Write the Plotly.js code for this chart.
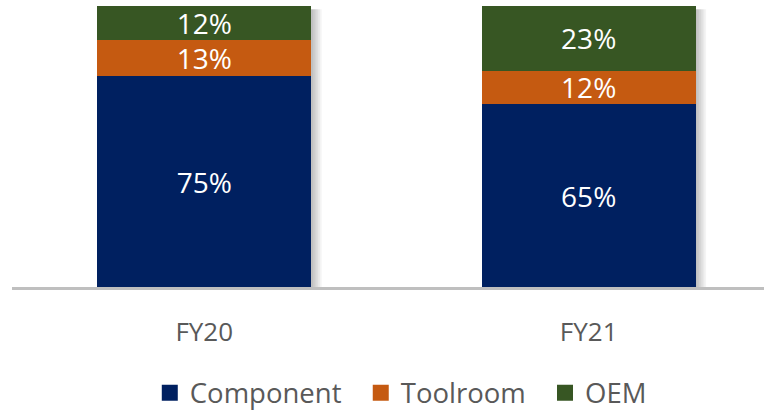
<!DOCTYPE html>
<html>
<head>
<meta charset="utf-8">
<script src="https://cdn.plot.ly/plotly-3.0.1.min.js"></script>
<style>
  html, body { margin: 0; padding: 0; background: #ffffff; }
  #chart { width: 764px; height: 410px; }
</style>
</head>
<body>
<div id="chart"></div>
<script>
const categories = ["FY20", "FY21"];
const seriesNames = ["Component", "Toolroom", "OEM"];
const component = [75, 65];
const toolroom = [13, 12];
const oem = [12, 23];
const colors = ["#002060", "#C55A11", "#375623"];

const font = "'Open Sans', 'Noto Sans', sans-serif";
const values = [component, toolroom, oem];
const bargap = 0.443;

const traces = values.map((vals, i) => ({
  type: "bar",
  name: seriesNames[i],
  x: categories,
  y: vals,
  text: vals.map(v => v + "%"),
  textposition: "inside",
  insidetextanchor: "middle",
  constraintext: "none",
  textfont: { family: font, size: 28, color: "#ffffff" },
  marker: { color: colors[i], line: { width: 0 } },
  hoverinfo: "skip",
  showlegend: false
}));

// legend entries (larger square swatches)
seriesNames.forEach((n, i) => {
  traces.push({
    type: "scatter",
    mode: "markers",
    name: i < seriesNames.length - 1 ? n + "\u00a0\u00a0" : n,
    x: [null],
    y: [null],
    marker: { symbol: "square", size: 17, color: colors[i] },
    showlegend: true,
    hoverinfo: "skip"
  });
});

// soft drop shadow on the right side of each bar
const totals = categories.map((c, j) => values.reduce((s, v) => s + v[j], 0));
const half = (1 - bargap) / 2;
const shapes = [];
categories.forEach((c, j) => {
  for (let k = 1; k <= 6; k++) {
    shapes.push({
      type: "rect",
      layer: "below",
      xref: "x", yref: "y",
      x0: j + half - 0.002, x1: j + half + k * 0.0045,
      y0: 0, y1: totals[j] - 1.2,
      line: { width: 0 },
      fillcolor: "rgba(0,0,0,0.045)"
    });
  }
});

const layout = {
  width: 764,
  height: 410,
  margin: { l: 12, r: 0, t: 6, b: 123 },
  paper_bgcolor: "#ffffff",
  plot_bgcolor: "rgba(0,0,0,0)",
  barmode: "stack",
  bargap: bargap,
  font: { family: font, color: "#595959" },
  shapes: shapes,
  xaxis: {
    type: "category",
    range: [-0.5, 1.456],
    showgrid: false,
    zeroline: false,
    showline: true,
    linecolor: "#bfbfbf",
    linewidth: 3,
    ticks: "",
    tickfont: { family: font, size: 26, color: "#595959" },
    ticklabelstandoff: 20,
    fixedrange: true
  },
  yaxis: {
    range: [0, 100],
    visible: false,
    showgrid: false,
    zeroline: false,
    fixedrange: true
  },
  showlegend: true,
  legend: {
    orientation: "h",
    traceorder: "normal",
    x: 0.517,
    xanchor: "center",
    yref: "container",
    y: 0.042,
    yanchor: "middle",
    font: { family: font, size: 27.5, color: "#595959" },
    itemclick: false,
    itemdoubleclick: false
  }
};

Plotly.newPlot("chart", traces, layout, { displayModeBar: false, staticPlot: true });
</script>
</body>
</html>
